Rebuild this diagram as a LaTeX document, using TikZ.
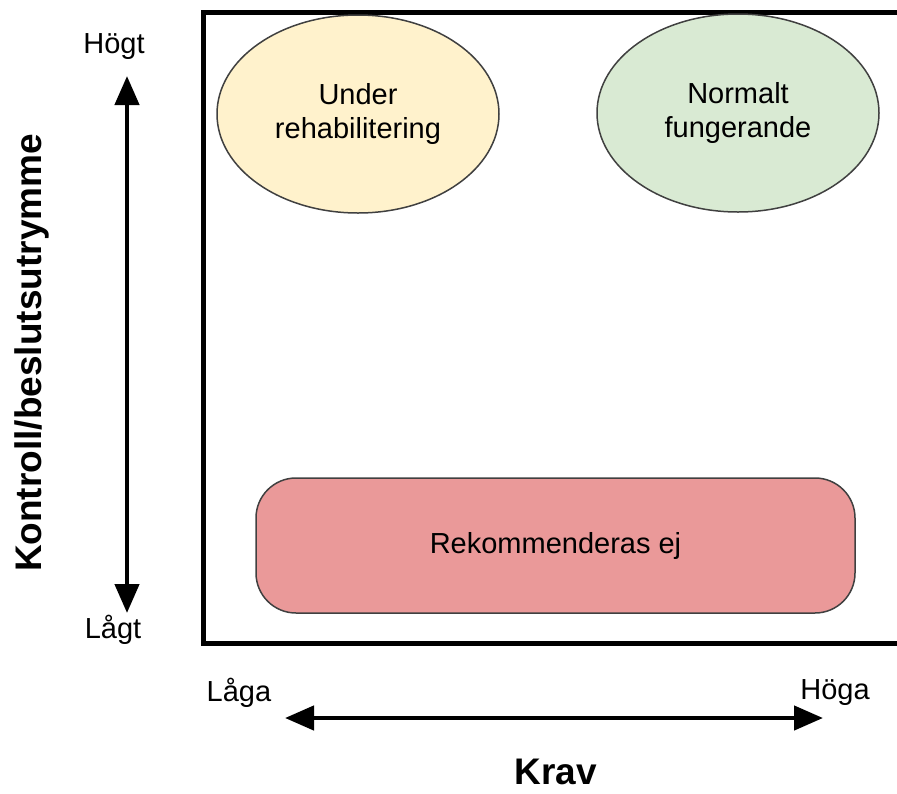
\documentclass[tikz,border=0pt]{standalone}
\usepackage{fontspec}
\setmainfont{Liberation Sans}
\usetikzlibrary{shapes.geometric,arrows.meta}
\definecolor{rehabfill}{HTML}{FFF2CC}
\definecolor{normalfill}{HTML}{D9EAD3}
\definecolor{ejfill}{HTML}{EA9999}
\begin{document}
\begin{tikzpicture}[x=1pt,y=-1pt,>={Triangle[length=29pt,width=24pt]},
  zone/.style={ellipse,draw=black!75,line width=1.5pt,minimum width=282pt,minimum height=198pt,inner sep=0pt,align=center,font=\fontsize{29}{34}\selectfont},
  lbl/.style={font=\fontsize{29}{34}\selectfont},
  ttl/.style={font=\bfseries\fontsize{37}{42}\selectfont}]
  \useasboundingbox (0,0) rectangle (897,793);
  \clip (0,0) rectangle (897,793);
  % frame
  \draw[line width=5pt] (905,12.5) -- (203.5,12.5) -- (203.5,643) -- (905,643);
  % zones
  \node[zone,fill=rehabfill] (rehab) at (358,114) {Under\\rehabilitering};
  \node[zone,fill=normalfill] (normal) at (738,113) {Normalt\\fungerande};
  \node[draw=black!75,line width=1.5pt,rounded corners=40pt,fill=ejfill,minimum width=599pt,minimum height=135pt,lbl] (ej) at (555.5,545.5) {Rekommenderas ej};
  % axes
  \coordinate (vtop) at (127,76);
  \coordinate (vbot) at (127,613);
  \draw[<->,line width=4.5pt] (vbot) -- (vtop);
  \node[lbl] (hog) at (114,47) {Högt};
  \node[lbl] (lag) at (113,630) {Lågt};
  \coordinate (hleft) at (285,718);
  \coordinate (hright) at (823,718);
  \draw[<->,line width=4.5pt] (hleft) -- (hright);
  \node[lbl] (laga) at (239,693) {Låga};
  \node[lbl] (hoga) at (835,693) {Höga};
  \node[ttl] (krav) at (556,772) {Krav};
  \node[ttl,rotate=90] (kontroll) at (32,353) {Kontroll/beslutsutrymme};
\end{tikzpicture}
\end{document}
